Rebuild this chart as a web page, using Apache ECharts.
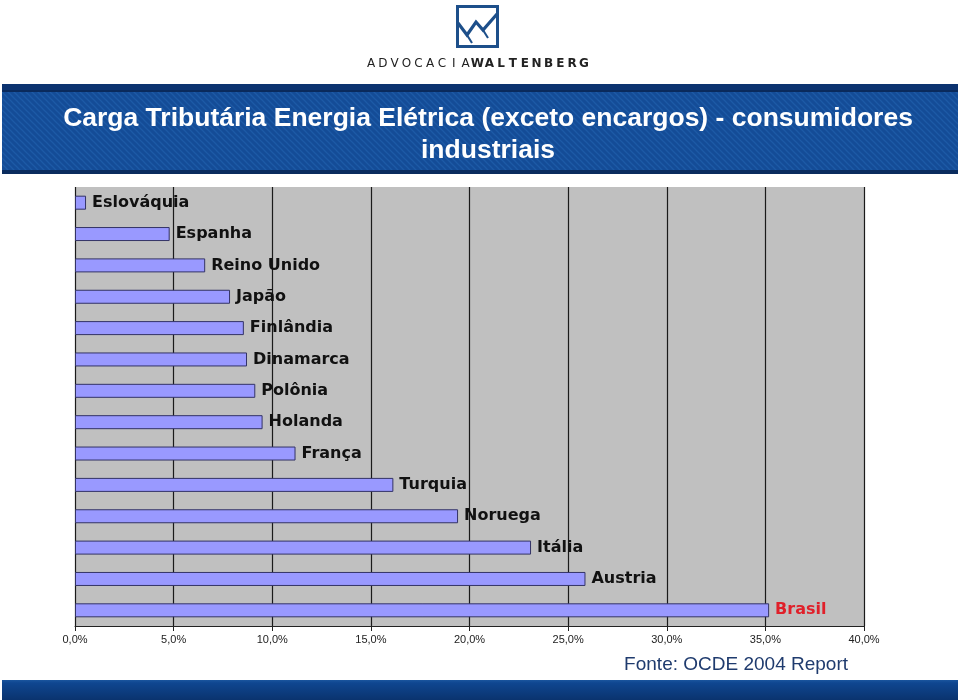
<!DOCTYPE html>
<html>
<head>
<meta charset="utf-8">
<script src="https://cdn.jsdelivr.net/npm/echarts@6/dist/echarts.min.js"></script>
<style>html,body{margin:0;padding:0;background:#fff;}#c{width:960px;height:700px;}</style>
</head>
<body>
<div id="c"></div>
<script>
var countries = ['Eslováquia','Espanha','Reino Unido','Japão','Finlândia','Dinamarca','Polônia','Holanda','França','Turquia','Noruega','Itália','Austria','Brasil'];
var values = [0.56, 4.8, 6.6, 7.86, 8.56, 8.72, 9.14, 9.51, 11.18, 16.14, 19.42, 23.12, 25.88, 35.19];
var highlight = 'Brasil';
var xTicks = [0,5,10,15,20,25,30,35,40];
var titleLines = ['Carga Tributária Energia Elétrica (exceto encargos) - consumidores','industriais'];
var sourceText = 'Fonte: OCDE 2004 Report';
var brandLight = 'ADVOCACIA';
var brandBold = 'WALTENBERG';

// stripe pattern for banner
var pc = document.createElement('canvas');
pc.width = 6; pc.height = 6;
var pctx = pc.getContext('2d');
pctx.fillStyle = '#144c97'; pctx.fillRect(0,0,6,6);
pctx.strokeStyle = '#1d5aa6'; pctx.lineWidth = 1.3;
pctx.beginPath(); pctx.moveTo(-1,-1); pctx.lineTo(7,7); pctx.stroke();
pctx.beginPath(); pctx.moveTo(-1,5); pctx.lineTo(1,7); pctx.stroke();
pctx.beginPath(); pctx.moveTo(5,-1); pctx.lineTo(7,1); pctx.stroke();

var chart = echarts.init(document.getElementById('c'), null, {renderer:'canvas'});

var graphics = [];
// logo square
graphics.push({type:'rect', shape:{x:457.5,y:6.5,width:40,height:40}, style:{fill:'none', stroke:'#1d4f8a', lineWidth:3}});
graphics.push({type:'polyline', shape:{points:[[458,23],[467,35],[476,22],[483,30],[497,14]]}, style:{fill:'none', stroke:'#1d4f8a', lineWidth:3.2}});
graphics.push({type:'polyline', shape:{points:[[467,35],[472,43]]}, style:{fill:'none', stroke:'#1d4f8a', lineWidth:2}});
graphics.push({type:'polyline', shape:{points:[[483,30],[488,38]]}, style:{fill:'none', stroke:'#1d4f8a', lineWidth:2}});
// brand letters
var brand = brandLight + brandBold;
for (var i = 0; i < brand.length; i++) {
  graphics.push({type:'text', x: 371 + i*11.83, y: 64, style:{text: brand[i], fill:'#222', font: (i < brandLight.length ? 'normal 12px "DejaVu Sans"' : 'bold 12px "DejaVu Sans"'), align:'center', verticalAlign:'middle'}});
}
// banner
graphics.push({type:'rect', shape:{x:2,y:84,width:956,height:90}, style:{fill:{image:pc, repeat:'repeat'}}});
graphics.push({type:'rect', shape:{x:2,y:84,width:956,height:7}, style:{fill:'#0c3370'}});
graphics.push({type:'rect', shape:{x:2,y:90,width:956,height:2}, style:{fill:'#0a2a5c'}});
graphics.push({type:'rect', shape:{x:2,y:170,width:956,height:4}, style:{fill:'#0a2c5e'}});
graphics.push({type:'text', x:488, y:119, style:{text:titleLines[0], fill:'#fff', font:'bold 26.5px "Liberation Sans", Arial', align:'center', verticalAlign:'middle'}});
graphics.push({type:'text', x:488, y:151, style:{text:titleLines[1], fill:'#fff', font:'bold 26.5px "Liberation Sans", Arial', align:'center', verticalAlign:'middle'}});
// bottom band
graphics.push({type:'rect', shape:{x:2,y:680,width:956,height:20}, style:{fill:new echarts.graphic.LinearGradient(0,0,0,1,[{offset:0,color:'#1a559e'},{offset:0.15,color:'#0f4690'},{offset:1,color:'#0a336e'}])}});
graphics.push({type:'text', x:848, y:665, style:{text:sourceText, fill:'#1f3b6e', font:'normal 19px "Liberation Sans Narrow", "Liberation Sans", Arial', align:'right', verticalAlign:'middle'}});

chart.setOption({
  animation:false,
  backgroundColor:'#ffffff',
  grid:{left:75, right:96, top:187, bottom:74, show:true, backgroundColor:'#c0c0c0', borderWidth:0, containLabel:false},
  xAxis:{type:'value', min:xTicks[0], max:xTicks[xTicks.length-1], interval:5,
    axisLine:{show:true, lineStyle:{color:'#222', width:1}},
    axisTick:{show:true, length:5, lineStyle:{color:'#222'}},
    splitLine:{show:true, lineStyle:{color:'#1a1a1a', width:1.2}},
    axisLabel:{color:'#222', fontSize:11, fontFamily:'"Liberation Sans Narrow","Liberation Sans",Arial', margin:8,
      formatter:function(v){return v.toFixed(1).replace('.',',')+'%';}}},
  yAxis:{type:'category', data:countries, inverse:true,
    axisLine:{show:false}, axisTick:{show:false}, axisLabel:{show:false}, splitLine:{show:false}},
  series:[{type:'bar', barWidth:14,
    data: values.map(function(v,i){return {value:v, label:{color: countries[i]===highlight ? '#e0202a' : '#111'}};}),
    itemStyle:{color:'#9999ff', borderColor:'#333366', borderWidth:1},
    label:{show:true, position:'right', distance:6, formatter:function(p){return p.name;},
      fontFamily:'"DejaVu Sans", Verdana', fontWeight:'bold', fontSize:16}
  }],
  graphic: graphics
});
</script>
</body>
</html>
